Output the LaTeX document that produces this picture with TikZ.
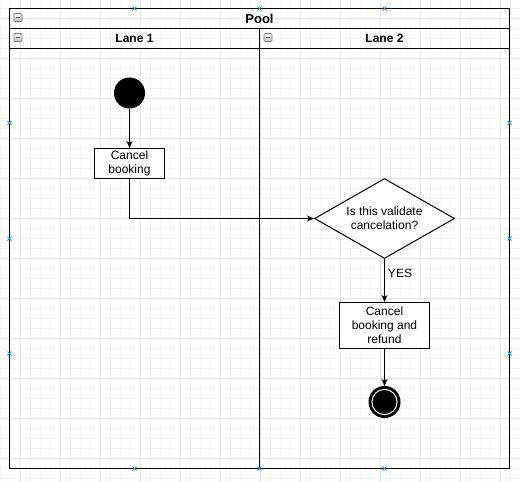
\documentclass[tikz,border=0pt]{standalone}
\usepackage{fontspec}
\setmainfont{Liberation Sans}
\usetikzlibrary{shapes.geometric,arrows.meta}
\definecolor{gridminor}{HTML}{F5F5F5}
\definecolor{gridmajor}{HTML}{E6E6E6}
\definecolor{mark}{HTML}{29A3E0}
\tikzset{
  frame/.style={draw=black,line width=1pt},
  lbl/.style={font=\bfseries\fontsize{12}{14}\selectfont,inner sep=0pt},
  startst/.style={circle,fill=black,draw=black,line width=1pt,minimum size=30pt,inner sep=0pt},
  endst/.style={circle,fill=black,draw=black,line width=1pt,minimum size=31pt,inner sep=0pt},
  act/.style={rectangle,draw=black,fill=white,line width=1pt,align=center,inner sep=0pt,font=\fontsize{12}{14}\selectfont},
  dec/.style={diamond,aspect=1.75,draw=black,fill=white,line width=1pt,align=center,inner sep=0pt,font=\fontsize{12}{14}\selectfont},
  plain/.style={inner sep=0pt,font=\fontsize{12}{14}\selectfont},
  arr/.style={draw=black,line width=1pt,-{Stealth[length=7pt,width=6pt,inset=2pt]}},
  minusicon/.style={rectangle,rounded corners=1pt,draw={rgb,255:red,120;green,120;blue,120},line width=0.6pt,top color=white,bottom color={rgb,255:red,190;green,190;blue,190},minimum size=8pt,inner sep=0pt},
  cpmark/.style={draw=mark,line width=0.9pt}
}
\begin{document}
\begin{tikzpicture}[x=1pt,y=-1pt]
\useasboundingbox (0,0) rectangle (520,482);
\fill[white] (0,0) rectangle (520,482);
% grid
\foreach \gx in {0,10,...,520} \draw[gridminor,line width=1pt] (\gx,0) -- (\gx,482);
\foreach \gy in {8,18,...,478} \draw[gridminor,line width=1pt] (0,\gy) -- (520,\gy);
\foreach \gx in {20,60,...,500} \draw[gridmajor,line width=1pt] (\gx,0) -- (\gx,482);
\foreach \gy in {18,58,...,458} \draw[gridmajor,line width=1pt] (0,\gy) -- (520,\gy);
% pool and lanes
\draw[frame] (9.5,8.5) rectangle (509.5,468.5);
\draw[frame] (9.5,28.5) -- (509.5,28.5);
\draw[frame] (9.5,48.5) -- (509.5,48.5);
\draw[frame] (259.5,28.5) -- (259.5,468.5);
\node[lbl,font=\bfseries\fontsize{13}{15}\selectfont] (pool) at (259.5,18.5) {Pool};
\node[lbl] (lane1) at (134.5,38.5) {Lane 1};
\node[lbl] (lane2) at (384.5,38.5) {Lane 2};
% collapse icons
\foreach \ix/\iy/\nm in {18/17.5/ipool,18/37.5/ilane1,268/37.5/ilane2}{
  \node[minusicon] (\nm) at (\ix,\iy) {};
  \draw[black!70,line width=0.8pt] ([xshift=-2pt]\nm.center) -- ([xshift=2pt]\nm.center);
}
% nodes
\node[startst] (start) at (129.5,93) {};
\node[act,minimum width=70pt,minimum height=30pt] (b1) at (129.5,163.5) {Cancel\\booking};
\node[dec,minimum width=140pt,minimum height=80pt] (dec) at (384.5,218.5) {Is this validate\\cancelation?};
\node[plain] (yes) at (400,273) {YES};
\node[act,minimum width=90pt,minimum height=46pt] (b2) at (384.5,325.5) {Cancel\\booking and\\refund};
\node[endst] (end) at (384.5,402) {};
\draw[white,line width=1pt] (end.center) circle (12.6pt);
% connectors
\draw[arr] (start) -- (b1);
\draw[arr] (b1.south) |- (dec.west);
\draw[arr] (dec.south) -- (b2.north);
\draw[arr] (b2.south) -- (end.north);
% connection point markers
\foreach \mx/\my in {134.5/8.5,259.5/8.5,384.5/8.5,134.5/468.5,259.5/468.5,384.5/468.5,9.5/123,9.5/238.5,9.5/353.5,509.5/123,509.5/238.5,509.5/353.5}{
  \draw[cpmark] (\mx-2,\my-2) -- (\mx+2,\my+2) (\mx-2,\my+2) -- (\mx+2,\my-2);
}
\end{tikzpicture}
\end{document}
